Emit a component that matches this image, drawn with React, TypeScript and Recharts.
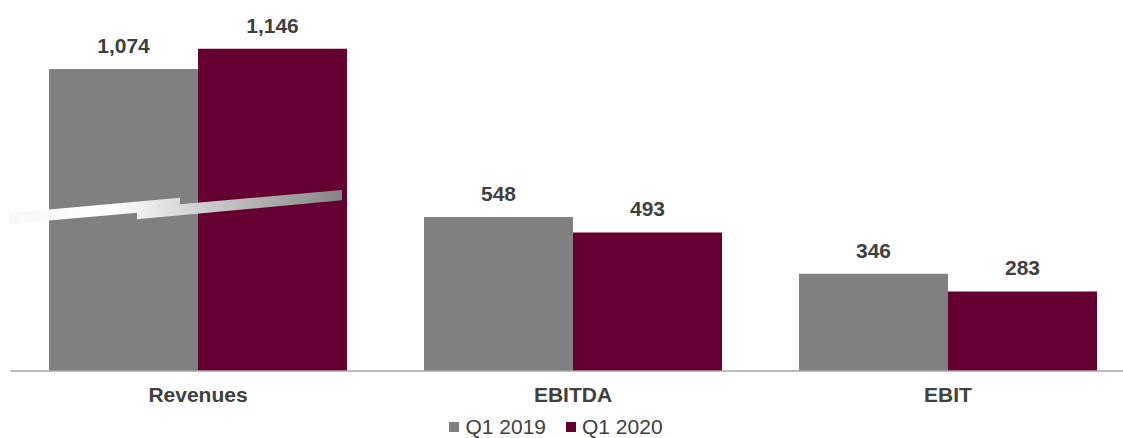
import { BarChart, Bar, XAxis, YAxis, LabelList, Legend } from "recharts";

const categories = ["Revenues", "EBITDA", "EBIT"];
const q1_2019 = [1074, 548, 346];
const q1_2020 = [1146, 493, 283];

const GREY = "#808080";
const MAROON = "#660033";
const TEXT = "#404040";
const FONT = "'Liberation Sans', Arial, sans-serif";

const data = categories.map((name, i) => ({
  name,
  q2019: q1_2019[i],
  q2020: q1_2020[i],
}));

function fmt(v: any) {
  return Number(v).toLocaleString("en-US");
}

function ChartLegend() {
  const items = [
    { label: "Q1 2019", color: GREY },
    { label: "Q1 2020", color: MAROON },
  ];
  return (
    <div
      style={{
        display: "flex",
        justifyContent: "center",
        gap: 20,
        height: 22,
        alignItems: "center",
        fontFamily: FONT,
        fontSize: 21,
        lineHeight: "18px",
        color: TEXT,
        paddingRight: 34,
      }}
    >
      {items.map((it) => (
        <span key={it.label} style={{ display: "flex", alignItems: "center", gap: 6 }}>
          <span style={{ width: 10, height: 10, background: it.color, display: "inline-block" }} />
          {it.label}
        </span>
      ))}
    </div>
  );
}

// decorative axis-break ribbon drawn across the Revenues bars
function AxisBreak() {
  return (
    <svg
      width={1123}
      height={438}
      style={{ position: "absolute", left: 0, top: 0, pointerEvents: "none" }}
    >
      <defs>
        <linearGradient id="breakGrad" x1="0" y1="0" x2="1" y2="0">
          <stop offset="0%" stopColor="#f7f7f7" />
          <stop offset="30%" stopColor="#ffffff" />
          <stop offset="50%" stopColor="#dcdcdc" />
          <stop offset="100%" stopColor="#858585" />
        </linearGradient>
      </defs>
      <polygon
        points="10,213 180,197.8 180,204.3 342,190 342,200.3 137,219.3 137,212.7 10,224"
        fill="url(#breakGrad)"
      />
    </svg>
  );
}

const labelProps = {
  position: "top" as const,
  offset: 16,
  formatter: fmt,
  fill: TEXT,
  fontSize: 21,
  fontWeight: "bold",
  fontFamily: FONT,
};

export default function App() {
  return (
    <div
      style={{
        position: "fixed",
        left: 0,
        top: 0,
        width: 1123,
        height: 438,
        overflow: "hidden",
        background: "#fff",
      }}
    >
      <BarChart
        width={1136}
        height={438}
        data={data}
        margin={{ top: 33.6, right: 0.5, left: 10.5, bottom: 0 }}
        barCategoryGap={38.5}
        barGap={0}
      >
        <XAxis
          dataKey="name"
          axisLine={{ stroke: "#a6a6a6", strokeWidth: 1.5 }}
          tickLine={false}
          tickMargin={10}
          height={45}
          tick={{ fill: TEXT, fontSize: 21, fontWeight: "bold", fontFamily: FONT }}
        />
        <YAxis hide domain={[0, 1200]} />
        <Legend verticalAlign="bottom" content={<ChartLegend />} />
        <Bar dataKey="q2019" name="Q1 2019" fill={GREY} isAnimationActive={false}>
          <LabelList dataKey="q2019" {...labelProps} />
        </Bar>
        <Bar dataKey="q2020" name="Q1 2020" fill={MAROON} isAnimationActive={false}>
          <LabelList dataKey="q2020" {...labelProps} />
        </Bar>
      </BarChart>
      <AxisBreak />
    </div>
  );
}
